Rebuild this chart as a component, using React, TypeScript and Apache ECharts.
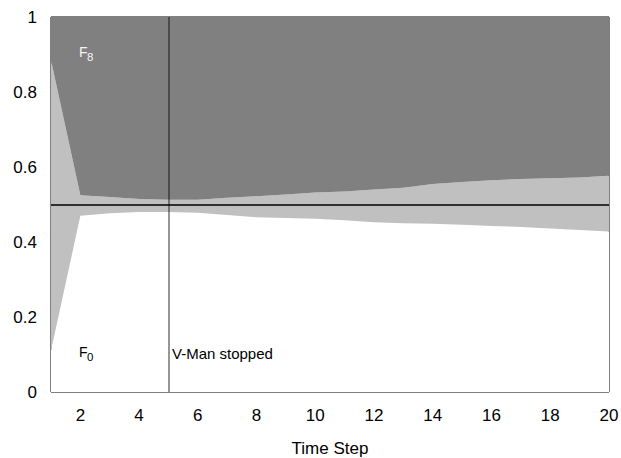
import React, { useEffect, useRef } from "react";
import * as echarts from "echarts";

const steps = [1, 2, 3, 4, 5, 6, 7, 8, 9, 10, 11, 12, 13, 14, 15, 16, 17, 18, 19, 20];
// lower boundary (top of the F0 region)
const lowerBound = [0.11, 0.47, 0.477, 0.48, 0.48, 0.478, 0.472, 0.466, 0.464, 0.462, 0.458, 0.453, 0.45, 0.449, 0.446, 0.443, 0.44, 0.436, 0.432, 0.428];
// upper boundary (bottom of the F8 region)
const upperBound = [0.885, 0.525, 0.52, 0.515, 0.513, 0.513, 0.518, 0.522, 0.527, 0.532, 0.535, 0.54, 0.545, 0.555, 0.56, 0.565, 0.568, 0.57, 0.572, 0.577];
const stopStep = 5;
const threshold = 0.5;

export default function App() {
  const ref = useRef<HTMLDivElement>(null);
  useEffect(() => {
    const chart = echarts.init(ref.current!, null, { renderer: "svg" });
    const font = "Liberation Sans, Arial, sans-serif";
    const bottomData = lowerBound.slice();
    const midData = steps.map((_, i) => upperBound[i] - lowerBound[i]);
    const topData = upperBound.map((u) => 1 - u);
    const areaSeries = (name: string, data: number[], color: string, extra: any = {}) => ({
      name,
      type: "line",
      stack: "total",
      data,
      symbol: "none",
      lineStyle: { width: 0 },
      areaStyle: { color, opacity: 1 },
      itemStyle: { color },
      silent: true,
      ...extra,
    });
    const txt = (text: string, left: number, top: number, size: number, fill: string) => ({
      type: "text",
      left,
      top,
      z: 100,
      style: { text, fontFamily: font, fontSize: size, fill },
    });
    chart.setOption({
      animation: false,
      grid: {
        left: 51,
        right: 12,
        top: 17,
        bottom: 66,
        containLabel: false,
        outerBoundsMode: "none",
        show: true,
        borderColor: "#000",
        borderWidth: 1,
        backgroundColor: "#fff",
      },
      xAxis: {
        type: "category",
        data: steps.map(String),
        boundaryGap: false,
        name: "Time Step",
        nameLocation: "middle",
        nameGap: 48,
        nameTextStyle: { fontFamily: font, fontSize: 17, color: "#000" },
        axisLine: { show: false },
        axisTick: { show: false },
        splitLine: { show: false },
        axisLabel: {
          interval: (_i: number, v: string) => Number(v) % 2 === 0,
          fontFamily: font,
          fontSize: 17,
          color: "#000",
          margin: 15,
        },
      },
      yAxis: {
        type: "value",
        min: 0,
        max: 1,
        interval: 0.2,
        axisLine: { show: false },
        axisTick: { show: false },
        splitLine: { show: false },
        axisLabel: {
          fontFamily: font,
          fontSize: 17,
          color: "#000",
          margin: 14,
          formatter: (v: number) => String(Math.round(v * 10) / 10),
        },
      },
      series: [
        areaSeries("F0", bottomData, "#ffffff"),
        areaSeries("mid", midData, "#c0c0c0"),
        areaSeries("F8", topData, "#808080", {
          markLine: {
            silent: true,
            symbol: "none",
            label: { show: false },
            data: [
              { xAxis: String(stopStep), lineStyle: { color: "rgba(0,0,0,0.55)", width: 1.5, type: "solid" } },
              { yAxis: threshold, lineStyle: { color: "#000", width: 1.5, type: "solid" } },
            ],
          },
        }),
      ],
      graphic: [
        txt("F", 79, 45, 14, "#f4f4f4"),
        txt("8", 87, 51, 11.5, "#f4f4f4"),
        txt("F", 79, 345, 14, "#000"),
        txt("0", 87, 351, 11.5, "#000"),
        txt("V-Man stopped", 172, 346, 15, "#000"),
      ],
    });
    return () => chart.dispose();
  }, []);
  return (
    <div
      ref={ref}
      style={{ position: "fixed", left: 0, top: 0, width: 621, height: 458, background: "#fff" }}
    />
  );
}
